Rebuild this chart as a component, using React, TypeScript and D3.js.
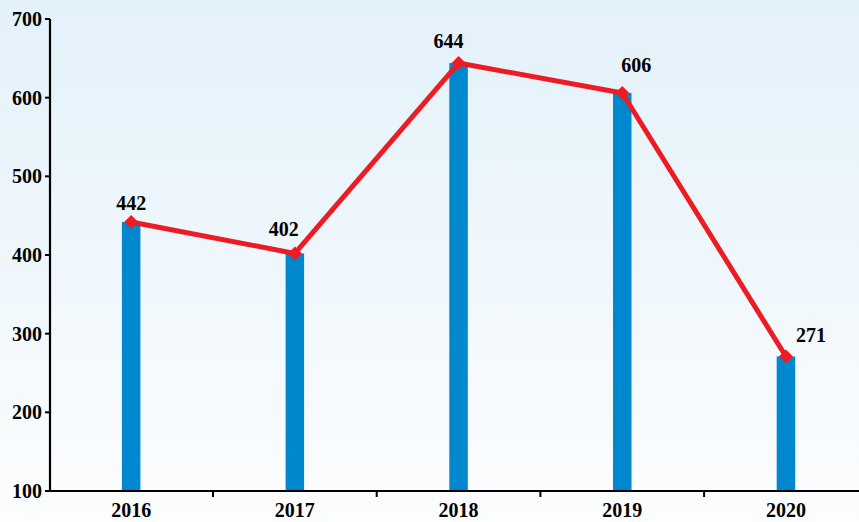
import React from "react";
import * as d3 from "d3";

const years = ["2016", "2017", "2018", "2019", "2020"];
const values = [442, 402, 644, 606, 271];
const yTicks = [100, 200, 300, 400, 500, 600, 700];
// label offsets relative to point (dx, dy)
const labelDx = [0, -11, -10, 14, 25];
const labelDy = [-12, -17, -15, -21, -14];

const W = 859;
const H = 522;

export default function App() {
  const x = d3.scaleBand<string>().domain(years).range([49.3, 49.3 + 5 * 163.7]).paddingInner(0).paddingOuter(0);
  const y = d3.scaleLinear().domain([100, 700]).range([491, 19]);
  const cx = (d: string) => (x(d) as number) + x.bandwidth() / 2;
  const barW = 18.5;
  const line = d3.line<number>().x((_, i) => cx(years[i])).y((v) => y(v));
  const font = "'Liberation Serif', 'Times New Roman', serif";

  return (
    <svg width={W} height={H} style={{ position: "fixed", left: 0, top: 0 }}>
      <defs>
        <linearGradient id="bg" x1="0" y1="0" x2="0" y2="1">
          <stop offset="0" stopColor="#e3f1fa" />
          <stop offset="1" stopColor="#fcfdfe" />
        </linearGradient>
      </defs>
      <rect x={0} y={0} width={W} height={H} fill="url(#bg)" />
      {years.map((yr, i) => (
        <rect key={yr} x={cx(yr) - barW / 2} y={y(values[i])} width={barW} height={y(100) - y(values[i])} fill="#0088ce" />
      ))}
      {/* y axis */}
      <line x1={50} x2={50} y1={19} y2={492} stroke="#000" strokeWidth={2.2} />
      {yTicks.map((t) => (
        <g key={t}>
          <line x1={45} x2={50} y1={y(t)} y2={y(t)} stroke="#000" strokeWidth={2} />
          <text x={42} y={y(t) + 7} textAnchor="end" fontFamily={font} fontWeight="bold" fontSize={20} fill="#000">
            {t}
          </text>
        </g>
      ))}
      {/* x axis */}
      <line x1={49} x2={W} y1={491} y2={491} stroke="#000" strokeWidth={2.2} />
      {years.slice(1).map((yr) => (
        <line key={yr} x1={x(yr) as number} x2={x(yr) as number} y1={491} y2={497} stroke="#000" strokeWidth={2} />
      ))}
      {years.map((yr) => (
        <text key={yr} x={cx(yr)} y={517} textAnchor="middle" fontFamily={font} fontWeight="bold" fontSize={20} fill="#000">
          {yr}
        </text>
      ))}
      <path d={line(values) as string} fill="none" stroke="#ed1c24" strokeWidth={5} strokeLinejoin="round" />
      {values.map((v, i) => {
        const px = cx(years[i]);
        const py = y(v);
        const s = 7;
        return (
          <path key={i} d={`M${px},${py - s}L${px + s},${py}L${px},${py + s}L${px - s},${py}Z`} fill="#ed1c24" />
        );
      })}
      {values.map((v, i) => (
        <text key={i} x={cx(years[i]) + labelDx[i]} y={y(v) + labelDy[i]} textAnchor="middle" fontFamily={font} fontWeight="bold" fontSize={20} fill="#000">
          {v}
        </text>
      ))}
    </svg>
  );
}
